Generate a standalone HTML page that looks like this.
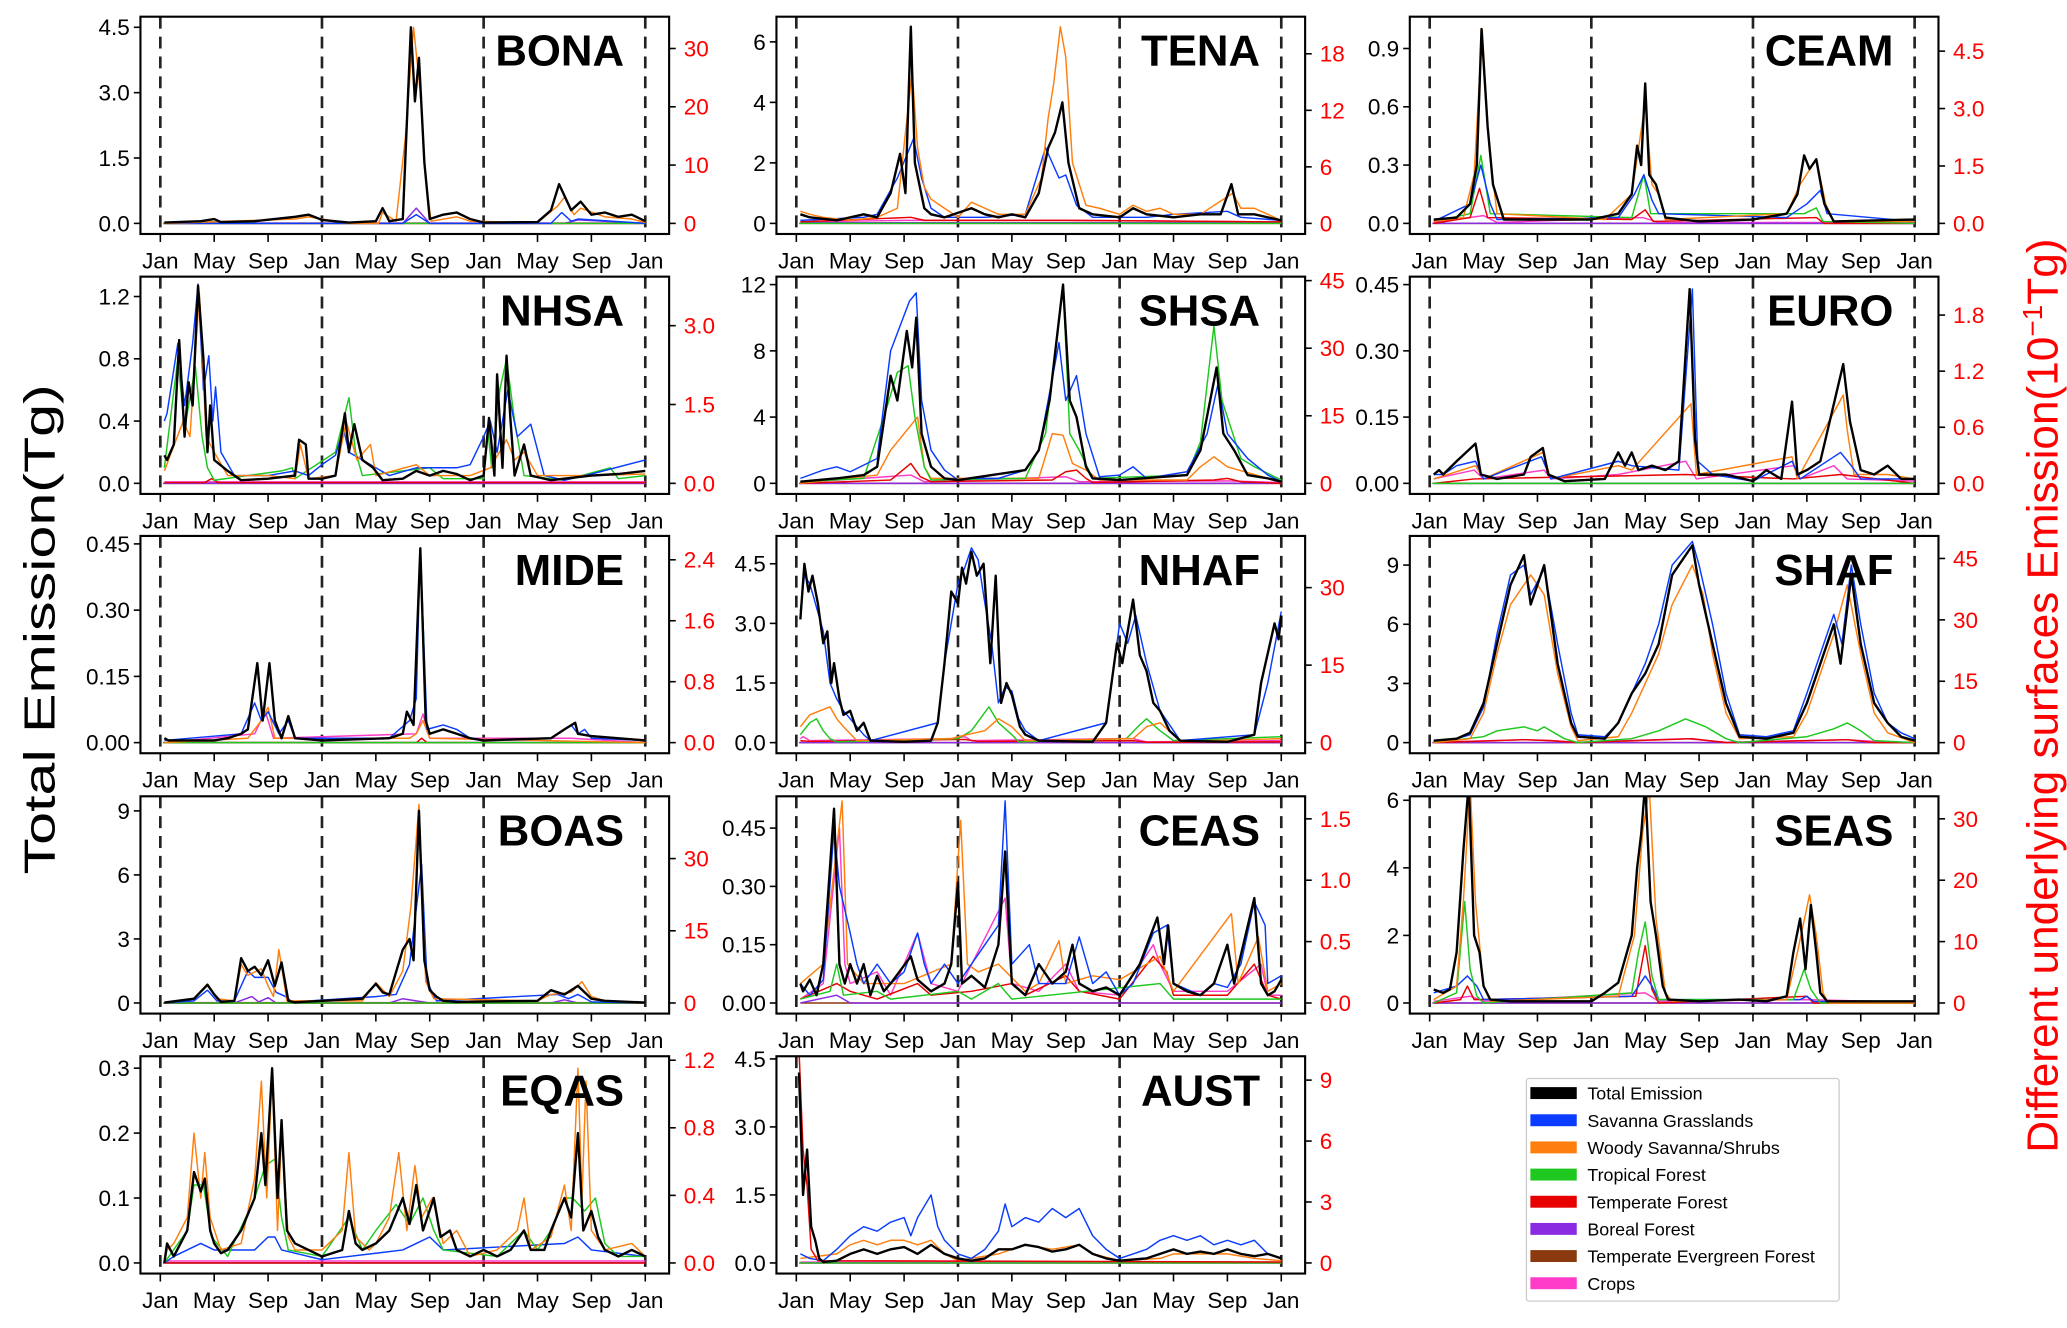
<!DOCTYPE html>
<html><head><meta charset="utf-8"><title>Emission panels</title>
<style>html,body{margin:0;padding:0;background:#fff}svg{display:block}text{font-family:"Liberation Sans",Arial,sans-serif}</style>
</head><body>
<svg id="chart" xmlns="http://www.w3.org/2000/svg" width="2067" height="1328" viewBox="0 0 1560 1002.3" preserveAspectRatio="none">
<rect x="0" y="0" width="1560" height="1003" fill="#fff"/>
<text transform="translate(41,475) rotate(-90)" text-anchor="middle" font-size="33" fill="#000" textLength="370" lengthAdjust="spacingAndGlyphs">Total Emission(Tg)</text>
<text transform="translate(1553,525) rotate(-90)" text-anchor="middle" font-size="33" fill="#f00" textLength="690" lengthAdjust="spacingAndGlyphs">Different underlying surfaces Emission(10<tspan font-size="21" dy="-12">−1</tspan><tspan dy="12">Tg)</tspan></text>
<g>
<rect x="1152" y="814" width="236" height="168" fill="#fff" stroke="#ccc" stroke-width="1" rx="2"/>
</g>
</svg>
<script>
// ---- series data: flat [month, value, month, value ...] arrays, values in left-axis units ----
const MONTHS = ['Jan','May','Sep','Jan','May','Sep','Jan','May','Sep','Jan'];
const FLAT = [0,0,36,0];

const BONA_left=[0,1.5,3.0,4.5], BONA_leftLab=['0.0','1.5','3.0','4.5'], BONA_right=[0,10,20,30], BONA_rightLab=['0','10','20','30'];
const BONA_total=[0.3,0.02,3,0.05,4,0.1,4.5,0.03,7,0.05,10,0.15,11,0.2,12,0.08,14,0.02,16,0.05,16.5,0.35,17,0.05,18,0.1,18.6,4.5,18.9,2.8,19.2,3.8,19.6,1.4,20,0.1,21,0.2,22,0.25,23,0.1,24,0.02,28,0.03,29,0.3,29.6,0.9,30.5,0.3,31.2,0.5,32,0.2,33,0.25,34,0.15,35,0.2,36,0.05];
const BONA_woody=[0.3,0,10,0.1,11,0.15,14,0,16.2,0,16.5,0.25,17.5,0.05,18.2,2,18.8,4.5,19.3,3.0,19.7,1.0,20.1,0.05,22,0.15,23,0.05,28,0.02,29.5,0.4,30,0.6,30.7,0.2,31.2,0.35,33,0.15,35,0.1,36,0.02];
const BONA_sav=[0.3,0,18,0,19,0.2,20,0,29,0,29.8,0.25,30.5,0.05,31,0.1,36,0];
const BONA_trop=FLAT;
const BONA_temp=FLAT;
const BONA_boreal=[0.3,0,18,0,19,0.35,20,0,30,0,31,0.08,36,0];
const BONA_crops=[0.3,0.01,36,0.01];

const TENA_left=[0,2,4,6], TENA_leftLab=['0','2','4','6'], TENA_right=[0,6,12,18], TENA_rightLab=['0','6','12','18'];
const TENA_total=[0.3,0.3,1,0.2,3,0.1,5,0.3,6,0.2,7,1,7.7,2.3,8.1,1,8.5,6.5,8.8,2,9.5,0.5,10,0.3,11,0.2,13,0.5,14,0.3,15,0.2,16,0.3,17,0.2,18,1,18.7,2.5,19.2,3,19.75,4,20.2,2,21,0.5,22,0.3,24,0.2,25,0.5,26,0.3,28,0.2,30,0.3,31.5,0.3,32.3,1.3,32.8,0.3,34,0.3,36,0.1];
const TENA_woody=[0.3,0.4,1,0.3,2,0.2,4,0.1,6,0.2,7.5,0.5,8.1,3,8.6,5,9,2.5,9.5,1.2,10,0.8,11,0.5,12,0.2,13,0.7,14,0.5,15,0.3,17,0.3,18.2,1.5,18.7,3.5,19.1,4.6,19.6,6.5,20,5.5,20.5,2,21.5,0.6,22.5,0.5,24,0.3,25,0.6,26,0.4,27,0.5,28,0.3,30,0.3,32.4,1.0,33,0.5,34,0.5,35,0.3,36,0.1];
const TENA_sav=[0.3,0.1,5,0.2,6,0.3,7.5,1.5,8.7,2.8,9.3,1.5,10,0.5,11,0.2,14,0.2,17,0.3,18.5,2.5,19.5,1.5,20,1.6,20.8,0.6,22,0.2,26,0.2,28,0.3,32,0.4,33,0.2,36,0.1];
const TENA_trop=FLAT;
const TENA_temp=[0.3,0.05,8.5,0.2,9.5,0.1,20,0.1,36,0.05];
const TENA_boreal=[0.3,0.02,36,0.02];
const TENA_crops=[0.3,0.05,8,0.1,20,0.1,36,0.05];

const CEAM_left=[0,0.3,0.6,0.9], CEAM_leftLab=['0.0','0.3','0.6','0.9'], CEAM_right=[0,1.5,3.0,4.5], CEAM_rightLab=['0.0','1.5','3.0','4.5'];
const CEAM_total=[0.3,0.02,2,0.03,3,0.1,3.5,0.3,3.85,1.0,4.3,0.5,4.7,0.2,5.5,0.02,8,0.02,12,0.02,14,0.05,15,0.15,15.4,0.4,15.7,0.3,16,0.72,16.3,0.25,16.8,0.2,17.5,0.03,20,0.01,24,0.02,26.5,0.05,27.3,0.15,27.8,0.35,28.2,0.28,28.7,0.33,29.3,0.1,30,0.01,36,0.02];
const CEAM_woody=[0.3,0.01,2.5,0.03,3.3,0.25,3.9,1.0,4.4,0.4,5,0.05,13,0.02,15,0.15,16,0.62,16.5,0.2,17,0.15,17.5,0.02,26.5,0.05,27.5,0.2,28.7,0.33,29.4,0.1,30,0.01,36,0.01];
const CEAM_sav=[0.3,0.01,3,0.1,3.8,0.3,4.5,0.1,5,0.02,14,0.03,15.2,0.15,15.9,0.25,16.5,0.12,17,0.05,26.5,0.03,28,0.1,29,0.17,29.5,0.05,36,0.01];
const CEAM_trop=[0.3,0.01,3,0.05,3.8,0.35,4.5,0.05,15,0.03,15.9,0.25,16.4,0.05,27.8,0.05,28.7,0.08,29.2,0.01,36,0];
const CEAM_temp=[0.3,0,3,0.03,3.7,0.18,4.3,0.03,15,0.02,16,0.07,16.6,0.01,28.7,0.03,29.3,0,36,0];
const CEAM_boreal=FLAT;
const CEAM_crops=[0.3,0.005,4,0.04,5,0.005,15.8,0.03,17,0.005,36,0.005];

const NHSA_left=[0,0.4,0.8,1.2], NHSA_leftLab=['0.0','0.4','0.8','1.2'], NHSA_right=[0,1.5,3.0], NHSA_rightLab=['0.0','1.5','3.0'];
const NHSA_total=[0.3,0.18,0.5,0.15,1,0.25,1.4,0.92,1.8,0.3,2.1,0.65,2.4,0.5,2.8,1.27,3.2,0.8,3.5,0.2,3.7,0.5,4,0.15,5,0.08,6,0.02,8,0.03,10,0.05,10.3,0.28,10.8,0.25,11,0.03,12,0.03,13,0.05,13.7,0.45,14,0.2,14.4,0.38,15,0.15,15.8,0.1,16.5,0.02,18,0.03,19,0.08,20,0.05,21,0.08,22,0.06,23,0.02,24,0.05,24.4,0.42,24.8,0.05,25,0.7,25.4,0.1,25.7,0.82,26,0.4,26.3,0.05,27,0.25,27.5,0.05,29,0.02,32,0.05,34,0.06,36,0.08];
const NHSA_sav=[0.3,0.4,0.5,0.45,1.3,0.9,1.8,0.5,2.4,0.9,2.8,1.28,3.2,0.6,3.6,0.82,3.9,0.4,4.1,0.62,4.5,0.2,5.5,0.05,8,0.05,10,0.08,11,0.05,12,0.12,13,0.18,13.6,0.35,14,0.2,15,0.15,17,0.05,19,0.1,22,0.1,23,0.12,24,0.3,24.5,0.4,25,0.2,25.8,0.6,26.5,0.3,27.5,0.38,28.5,0.05,30,0.02,32,0.06,36,0.15];
const NHSA_woody=[0.3,0.08,1.7,0.4,2.2,0.3,2.9,1.22,3.4,0.3,4,0.2,5,0.05,8,0.05,10,0.03,10.4,0.25,11,0.03,13,0.05,13.8,0.4,14.6,0.15,15.6,0.25,16,0.05,19,0.12,20,0.05,23,0.05,24.5,0.1,25.7,0.28,26.3,0.15,27,0.2,28,0.05,32,0.05,36,0.06];
const NHSA_trop=[0.3,0.1,1.3,0.8,1.8,0.35,2.6,0.75,3.1,0.3,3.5,0.1,4,0.02,9,0.08,9.8,0.1,10,0.03,13,0.2,14,0.55,14.5,0.2,15,0.05,20,0.1,21,0.03,24,0.03,24.3,0.35,24.6,0.1,25.2,0.6,25.7,0.8,26.3,0.4,27,0.05,30,0.02,33.4,0.1,34,0.03,36,0.05];
const NHSA_temp=[0.3,0.005,3.3,0.005,3.8,0.03,4.3,0.005,36,0.005];
const NHSA_boreal=FLAT;
const NHSA_crops=[0.3,0.01,36,0.01];

const SHSA_left=[0,4,8,12], SHSA_leftLab=['0','4','8','12'], SHSA_right=[0,15,30,45], SHSA_rightLab=['0','15','30','45'];
const SHSA_total=[0.3,0.1,3,0.3,5,0.5,6,1,7,6.5,7.5,5,8.2,9.2,8.6,7,8.9,10,9.3,3,10,1,11,0.3,12,0.2,17,0.8,18,2,18.8,5,19.8,12,20.3,5,20.8,4,21.5,1,22,0.3,24,0.2,29,0.5,30,2,31.2,7,31.7,3,32.5,2,33.5,0.5,35,0.3,36,0.1];
const SHSA_sav=[0.3,0.3,2,0.8,3,1,4,0.7,6,1.5,7,8,8.4,11,8.9,11.5,9.3,5,10,2,11,0.8,12,0.2,13,0.3,15,0.3,17,0.8,18,2,19.5,8.5,20,5,20.8,6.5,21.5,3,22.5,0.4,24,0.5,25,1,26,0.3,29,0.7,30.5,3,31.3,6,32,3,33.5,1.5,35,0.5,36,0.1];
const SHSA_trop=[0.3,0.1,5,0.3,6.5,4,7.5,6.7,8.3,7.1,8.8,4,9.5,1,10,0.2,17,0.3,18.5,3,19.8,12,20.3,3,21,2,22,0.3,29,0.5,30,2.5,31,9.5,31.6,5,33,1.5,34,1,36,0.2];
const SHSA_woody=[0.3,0,6,0.5,7,2,8,3,9,4,9.5,1,10,0.3,18,0.3,19,3,19.8,2.9,20.5,1.2,21.5,0.8,22.5,0.2,29,0.2,30,1,31,1.6,32,1,35,0.3,36,0.1];
const SHSA_temp=[0.3,0,7,0.2,8.5,1.2,9.2,0.4,10,0.1,19,0.2,20,0.7,20.8,0.8,21.5,0.3,22,0.05,31,0.2,32,0.3,33,0.1,36,0];
const SHSA_boreal=FLAT;
const SHSA_crops=[0.3,0.05,8.5,0.5,9.5,0.1,20,0.4,21,0.1,32,0.15,36,0.05];

const EURO_left=[0,0.15,0.30,0.45], EURO_leftLab=['0.00','0.15','0.30','0.45'], EURO_right=[0,0.6,1.2,1.8], EURO_rightLab=['0.0','0.6','1.2','1.8'];
const EURO_total=[0.3,0.02,0.7,0.03,1,0.02,2,0.05,3.4,0.09,3.8,0.02,5,0.01,7,0.02,7.5,0.06,8.4,0.08,8.8,0.02,10,0.005,13,0.01,14,0.07,14.5,0.04,15,0.07,15.5,0.03,16.5,0.04,17.5,0.03,18.5,0.05,19.3,0.44,19.7,0.1,20,0.02,22,0.02,24,0.005,25,0.03,26.1,0.01,26.9,0.185,27.3,0.02,28,0.03,29,0.05,30.7,0.27,31.2,0.14,32,0.03,33,0.02,34,0.04,35,0.01,36,0.01];
const EURO_sav=[0.3,0.02,1,0.02,2,0.04,3.4,0.05,4,0.01,8.3,0.06,9,0.01,14,0.05,15,0.04,18.5,0.03,19.5,0.44,19.9,0.05,21,0.02,24,0.005,26.9,0.05,27.5,0.01,30.5,0.07,31.3,0.04,32,0.01,36,0.01];
const EURO_woody=[0.3,0.01,3.4,0.04,4,0.01,8.4,0.07,9,0.01,14,0.04,15,0.03,19.4,0.18,19.8,0.02,26.9,0.06,27.3,0.01,30.7,0.2,31,0.12,31.5,0.02,34,0.02,36,0.01];
const EURO_trop=FLAT;
const EURO_temp=[0.3,0,3.3,0.01,19,0.02,27,0.01,30.5,0.02,36,0];
const EURO_boreal=FLAT;
const EURO_crops=[0.3,0.01,3.3,0.03,4,0.01,8.5,0.03,9,0.01,14,0.02,19,0.05,19.8,0.01,27,0.04,27.5,0.01,30,0.04,31,0.01,36,0.005];

const MIDE_left=[0,0.15,0.30,0.45], MIDE_leftLab=['0.00','0.15','0.30','0.45'], MIDE_right=[0,0.8,1.6,2.4], MIDE_rightLab=['0.0','0.8','1.6','2.4'];
const MIDE_total=[0.3,0.01,0.6,0.005,4,0.005,5,0.01,6,0.02,6.5,0.03,7.2,0.18,7.6,0.05,8.1,0.18,8.5,0.05,9,0.01,9.5,0.06,10,0.01,12,0.005,17,0.01,18,0.02,18.3,0.07,18.8,0.04,19.3,0.44,19.7,0.05,20,0.02,21,0.03,22,0.02,23,0.01,24,0.005,29,0.01,30,0.03,30.8,0.045,31,0.02,32,0.015,36,0.005];
const MIDE_sav=[0.3,0.005,6,0.02,7,0.09,7.5,0.05,8,0.07,8.8,0.02,9.5,0.05,10,0.01,17,0.01,18.5,0.05,19,0.1,19.3,0.44,19.8,0.03,21,0.04,22,0.03,23,0.01,24,0.005,29,0.01,30.5,0.04,31,0.02,31.5,0.03,32,0.01,36,0.005];
const MIDE_woody=[0.3,0,6.5,0.01,7.5,0.05,8,0.08,8.5,0.01,18.5,0.01,19,0.02,19.5,0.05,20,0.01,36,0];
const MIDE_trop=FLAT;
const MIDE_temp=[0.3,0,19,0,19.4,0.01,19.8,0,36,0];
const MIDE_boreal=FLAT;
const MIDE_crops=[0.3,0,7,0.02,7.8,0.07,8.4,0.01,19,0.02,19.5,0.065,20,0.01,30.5,0.01,36,0];

const NHAF_left=[0,1.5,3.0,4.5], NHAF_leftLab=['0.0','1.5','3.0','4.5'], NHAF_right=[0,15,30], NHAF_rightLab=['0','15','30'];
const NHAF_total=[0.3,3.1,0.6,4.5,0.9,3.8,1.2,4.2,1.6,3.5,2,2.5,2.3,2.8,2.6,1.5,2.8,2,3.2,1.1,3.5,0.7,4,0.8,4.5,0.3,5,0.5,5.5,0.05,8,0.02,10,0.05,10.5,0.5,11,2,11.5,3.8,12,3.5,12.3,4.4,12.6,4.0,13,4.8,13.4,4.2,13.9,4.5,14.4,2.0,14.8,4.2,15.2,1.0,15.6,1.5,16,1.2,16.6,0.4,17,0.2,18,0.05,22,0.02,23,0.5,23.8,2.5,24.2,2.0,24.6,2.8,25,3.6,25.5,2.2,26,1.8,26.5,1.0,27,0.8,27.7,0.3,28.5,0.05,32,0.02,34,0.2,34.5,1.5,35.5,3.0,35.8,2.6,36,3.2];
const NHAF_sav=[0.3,3.3,0.6,4.2,1,4.0,2,2.8,2.5,1.5,3,1.1,3.5,0.8,4,0.6,5,0.2,5.5,0.05,10.5,0.5,11,2,12,4,12.5,4.4,13,4.9,13.5,4.6,14,3.5,14.5,2.5,15,1.0,15.5,1.4,16,1.3,16.5,0.6,17,0.3,18,0.05,23,0.5,24,3.0,24.6,2.5,25.2,3.2,26,2.0,27,0.8,28,0.3,28.5,0.05,34,0.2,35,1.5,36,3.3];
const NHAF_woody=[0.3,0.4,1,0.7,2.5,0.9,3,0.6,3.5,0.4,4.5,0.05,11.5,0.1,12,0.15,14,0.3,15,0.6,16,0.4,17,0.05,25,0.1,26,0.4,27,0.5,28,0.2,28.5,0.03,36,0.1];
const NHAF_trop=[0.3,0.2,1,0.5,1.5,0.6,2,0.3,2.5,0.1,3,0.02,12,0.1,13,0.3,14.3,0.9,15,0.5,16,0.2,16.5,0.02,24.5,0.1,25.5,0.45,26,0.6,27,0.3,28,0.05,36,0.15];
const NHAF_temp=[0.3,0.05,1,0.03,12.5,0.08,13.5,0.03,25,0.05,26,0.01,36,0.02];
const NHAF_boreal=FLAT;
const NHAF_crops=[0.3,0.1,0.5,0.15,1,0.05,11.5,0.1,12.5,0.15,13,0.05,24,0.1,25,0.1,26,0.02,36,0.05];

const SHAF_left=[0,3,6,9], SHAF_leftLab=['0','3','6','9'], SHAF_right=[0,15,30,45], SHAF_rightLab=['0','15','30','45'];
const SHAF_total=[0.3,0.1,2,0.2,3,0.5,4,2,5,5,6,8,7,9.5,7.5,7,8.5,9,9.5,4,10.5,1,11,0.3,13,0.2,14,1,15,2.5,16,3.5,17,5,18,8.5,19.5,10,20,8,21,5,22,2,23,0.3,25,0.2,27,0.5,28,2,29,4,30,6,30.5,4,31.3,8.5,32,5,33,2,34,1,35,0.3,36,0.1];
const SHAF_sav=[0.3,0.1,2,0.2,3,0.4,4,1.8,5,5.5,6,8.5,7,9,7.5,7.5,8.5,8.8,9.5,5,10.5,1.5,11,0.4,13,0.3,14,1,15,2.5,16,4,17,6,18,9,19.5,10.2,20,9,21,6,22,2.5,23,0.4,25,0.3,27,0.6,28,2.5,29,4.5,30,6.5,30.6,5,31.3,9,32,6,33,2.5,34,1,35,0.5,36,0.2];
const SHAF_woody=[0.3,0,3,0.2,4,1.5,5,4.5,6,7,7.5,8.5,8.5,7.5,9.5,3.5,10.5,0.8,11,0.1,14,0.3,15,1.5,16,3,17,4.5,18,7,19.5,9,20.3,7.5,21,4.5,22,1.5,23,0.2,27,0.3,28,1.5,29,3.5,30,5.5,31,8,32,4.5,33,1.5,34,0.5,36,0];
const SHAF_trop=[0.3,0,4,0.3,5,0.6,7,0.8,8,0.6,8.5,0.8,10,0.2,11,0,15,0.2,17,0.6,19,1.2,20.5,0.8,22,0.2,23,0,28,0.3,30,0.7,31,1.0,32,0.6,33,0.1,36,0];
const SHAF_temp=[0.3,0,7,0.15,9,0.1,11,0,19.5,0.2,22,0,31,0.15,33,0,36,0];
const SHAF_boreal=FLAT;
const SHAF_crops=[0.3,0.02,7,0.15,9,0.1,11,0.02,19,0.2,22,0.02,31,0.15,34,0.02,36,0.02];

const BOAS_left=[0,3,6,9], BOAS_leftLab=['0','3','6','9'], BOAS_right=[0,15,30], BOAS_rightLab=['0','15','30'];
const BOAS_total=[0.3,0.02,2.5,0.2,3.5,0.85,4,0.4,4.5,0.05,5.5,0.1,6,2.1,6.5,1.5,7,1.7,7.5,1.3,8,2.0,8.5,0.8,9,1.9,9.5,0.1,10,0.03,15,0.2,16,0.9,16.5,0.5,17,0.4,18,2.5,18.5,3.0,18.8,2.0,19.2,9.0,19.6,2,20,0.6,20.5,0.3,21,0.1,22,0.05,28,0.1,29,0.6,30,0.4,31,0.8,32,0.2,33,0.1,36,0.02];
const BOAS_woody=[0.3,0,2.5,0.2,3.5,0.9,4.2,0.2,5.5,0.1,6,1.8,6.5,1.3,7.5,1.6,8,0.8,8.4,0.3,8.8,2.5,9.4,0.1,15,0.1,16,0.95,17,0.3,18,1.5,18.6,4.5,19.2,9.3,19.7,1,20.3,0.2,28,0.1,29,0.4,30.5,0.5,31.3,1.0,32,0.3,33,0.1,36,0];
const BOAS_sav=[0.3,0,2.5,0.1,3.5,0.6,4.2,0.1,5.5,0.1,6.5,1.5,7,1.2,8,1.2,8.6,0.5,9.3,0.3,9.8,0.05,16,0.3,17.5,0.4,18.5,1.8,19.4,6.5,19.8,1,20.5,0.1,29.5,0.4,30.3,0.2,31,0.4,32,0.05,36,0];
const BOAS_trop=FLAT;
const BOAS_temp=FLAT;
const BOAS_boreal=[0.3,0,5.5,0,6.8,0.3,7.3,0.05,8,0.25,8.6,0,17,0,18,0.2,19,0.1,20,0,29,0,30,0.15,31,0,36,0];
const BOAS_crops=[0.3,0.02,36,0.02];

const CEAS_left=[0,0.15,0.30,0.45], CEAS_leftLab=['0.00','0.15','0.30','0.45'], CEAS_right=[0,0.5,1.0,1.5], CEAS_rightLab=['0.0','0.5','1.0','1.5'];
const CEAS_total=[0.3,0.05,0.5,0.03,1,0.06,1.5,0.02,2,0.1,2.8,0.5,3.2,0.1,3.6,0.05,4,0.1,4.5,0.05,5,0.1,5.5,0.02,6,0.07,6.5,0.03,7,0.05,8.5,0.12,9,0.06,10,0.03,11,0.05,11.5,0.1,12,0.31,12.3,0.05,13,0.07,14,0.04,15,0.15,15.5,0.39,16,0.05,17,0.02,18,0.1,19,0.05,20,0.08,20.5,0.15,21,0.05,22,0.03,23,0.04,24,0.02,25.5,0.1,26.8,0.22,27.3,0.1,27.6,0.2,28,0.05,29,0.03,30,0.02,31,0.05,32,0.15,32.5,0.05,34,0.27,34.5,0.05,35,0.02,35.5,0.03,36,0.06];
const CEAS_sav=[0.3,0.05,1,0.02,2,0.06,2.8,0.45,3.2,0.3,4,0.18,4.5,0.1,5,0.05,6,0.1,7,0.05,8,0.08,9,0.18,9.5,0.1,10,0.05,11,0.1,12,0.05,13,0.1,14,0.15,15,0.2,15.5,0.52,16,0.1,17.3,0.15,18,0.05,20,0.05,21,0.17,22,0.05,23,0.08,24,0.02,25,0.05,26.5,0.18,27.5,0.2,28,0.05,30,0.02,31,0.05,32,0.04,33,0.1,34,0.26,34.8,0.2,35,0.05,36,0.07];
const CEAS_woody=[0.3,0.05,2,0.1,3.4,0.52,3.8,0.1,5,0.05,8,0.05,11.5,0.1,12.2,0.47,12.7,0.1,13.5,0.08,15,0.1,17,0.03,18,0.05,19.5,0.16,20,0.05,22,0.07,24,0.06,26,0.1,27,0.12,28,0.03,32.3,0.23,32.8,0.05,34.3,0.17,35,0.03,36,0.05];
const CEAS_trop=[0.3,0.01,2.5,0.03,3,0.1,3.5,0.02,6,0.03,7,0.01,12,0.03,13,0.01,15,0.05,16,0.01,27,0.05,28,0.01,36,0.01];
const CEAS_temp=[0.3,0.01,1,0.02,3,0.05,4,0.03,6,0.01,9,0.05,10,0.02,13,0.03,16,0.05,17,0.02,20,0.07,21,0.03,24,0.01,26.5,0.12,27.5,0.08,28,0.02,32,0.02,34,0.1,35,0.02,36,0.01];
const CEAS_boreal=[0.3,0,3,0.02,4,0,36,0];
const CEAS_crops=[0.3,0.01,2,0.05,3.2,0.45,3.6,0.1,4,0.05,6,0.08,7,0.02,9,0.18,10,0.05,12,0.03,15.5,0.27,16,0.05,18,0.03,20,0.1,21,0.03,24,0.02,26.5,0.15,27,0.1,28,0.03,32,0.03,34.5,0.1,35,0.02,36,0.02];

const SEAS_left=[0,2,4,6], SEAS_leftLab=['0','2','4','6'], SEAS_right=[0,10,20,30], SEAS_rightLab=['0','10','20','30'];
const SEAS_total=[0.3,0.4,1,0.3,1.5,0.4,2,1.5,2.5,4.5,2.9,6.5,3.3,2,3.7,1.5,4,0.5,4.5,0.1,6,0.05,12,0.05,13,0.3,14,0.6,15,2,15.4,4,15.7,5,16,6.5,16.4,3,16.8,2,17.3,0.5,17.7,0.1,20,0.05,23,0.1,25,0.05,26.5,0.2,27,1.5,27.5,2.5,27.9,1.0,28.3,2.9,28.7,1.5,29,0.3,29.5,0.05,36,0.05];
const SEAS_woody=[0.3,0.1,2,0.5,2.5,3,3,6.5,3.4,3,4,0.5,4.5,0.05,14,0.2,15.2,2,15.8,5,16.3,6.4,16.8,2.5,17.5,0.3,18,0.05,26.5,0.1,27.3,1.5,28.2,3.2,28.7,2,29.2,0.3,29.6,0,36,0];
const SEAS_trop=[0.3,0,2,0.3,2.6,3.0,3,1,3.5,0.2,4,0,15,0.3,15.5,1.5,16,2.4,16.5,0.8,17,0.1,27,0.1,27.8,1.0,28.3,0.4,29,0,36,0];
const SEAS_sav=[0.3,0.3,2,0.5,2.8,0.8,3.5,0.5,4,0.1,15,0.2,15.5,0.5,16,0.8,16.5,0.5,17,0.1,27.5,0.1,28,0.2,28.5,0.05,36,0.02];
const SEAS_temp=[0.3,0,2.3,0.1,2.8,0.5,3.3,0.1,15.3,0.2,16,1.7,16.5,0.4,17,0,28,0.2,28.5,0,36,0];
const SEAS_boreal=FLAT;
const SEAS_crops=[0.3,0.05,3,0.2,4,0.05,16,0.3,17,0.05,28,0.1,36,0.02];

const EQAS_left=[0,0.1,0.2,0.3], EQAS_leftLab=['0.0','0.1','0.2','0.3'], EQAS_right=[0,0.4,0.8,1.2], EQAS_rightLab=['0.0','0.4','0.8','1.2'];
const EQAS_total=[0.3,0,0.5,0.03,1,0.01,2,0.05,2.5,0.14,3,0.11,3.3,0.13,3.7,0.05,4,0.03,4.5,0.015,5,0.02,6,0.05,7,0.1,7.5,0.2,7.8,0.12,8.3,0.3,8.7,0.1,9,0.22,9.4,0.05,10,0.03,11,0.02,12,0.01,13.5,0.02,14,0.08,14.5,0.03,15,0.02,16,0.03,17,0.05,18,0.1,18.5,0.06,19,0.12,19.5,0.05,20.3,0.1,20.8,0.04,21.5,0.05,22,0.02,23,0.01,24,0.02,25,0.01,26,0.02,27,0.05,27.5,0.02,28.5,0.02,29,0.05,30,0.1,30.5,0.07,31,0.2,31.4,0.05,32,0.08,32.5,0.04,33,0.02,34,0.01,35,0.02,36,0.01];
const EQAS_woody=[0.3,0,0.5,0.02,1,0.03,2,0.07,2.5,0.2,3,0.1,3.3,0.17,3.7,0.07,4.5,0.02,6,0.03,7,0.13,7.5,0.28,7.9,0.1,8.3,0.29,8.7,0.05,9,0.2,9.5,0.04,10,0.02,12,0.02,13.5,0.05,14,0.17,14.5,0.04,15.5,0.02,16,0.03,17,0.07,17.7,0.17,18.3,0.05,18.9,0.15,19.4,0.07,20.2,0.1,21,0.03,22,0.05,23,0.01,25,0.02,26.5,0.05,27,0.1,27.5,0.02,29,0.04,30,0.12,30.5,0.05,31,0.3,31.3,0.1,31.6,0.28,32,0.05,33,0.02,35,0.03,36,0.01];
const EQAS_trop=[0.3,0,2,0.05,2.5,0.12,3.2,0.12,3.8,0.04,5,0.01,7,0.1,7.8,0.15,8.5,0.16,9,0.07,9.5,0.02,12,0.01,14,0.07,15,0.02,16,0.05,17.5,0.09,18.5,0.06,19.5,0.1,20.3,0.05,21,0.02,25,0.01,27,0.05,28,0.02,29,0.05,30,0.1,30.6,0.1,31.5,0.08,32.3,0.1,33,0.03,34,0.01,36,0.01];
const EQAS_sav=[0.3,0,1,0.01,2,0.02,3,0.03,4,0.02,7,0.02,8,0.04,8.5,0.04,9,0.02,12,0.005,18,0.02,19,0.03,20,0.04,21,0.02,30,0.03,31,0.04,32,0.02,36,0.01];
const EQAS_temp=FLAT;
const EQAS_boreal=FLAT;
const EQAS_crops=[0.3,0.003,36,0.003];

const AUST_left=[0,1.5,3.0,4.5], AUST_leftLab=['0.0','1.5','3.0','4.5'], AUST_right=[0,3,6,9], AUST_rightLab=['0','3','6','9'];
const AUST_total=[0.2,4.2,0.5,1.5,0.8,2.5,1.1,0.8,1.4,0.5,1.7,0.1,2,0.02,3,0.05,4,0.2,5,0.3,6,0.2,7,0.3,8,0.35,9,0.2,10,0.4,11,0.2,12,0.1,13,0.05,14,0.1,15,0.3,16,0.3,17,0.4,18,0.35,19,0.25,20,0.3,21,0.4,22,0.2,23,0.1,24,0.05,26,0.1,27,0.2,28,0.3,29,0.2,30,0.25,31,0.2,32,0.3,33,0.2,34,0.15,35,0.2,36,0.1];
const AUST_temp=[0.2,4.7,0.5,2.5,0.8,1.7,1.1,0.3,1.6,0.05,36,0.02];
const AUST_sav=[0.3,0.2,1,0.1,2,0.05,3,0.3,4,0.6,5,0.8,6,0.7,7,0.9,8,1.0,8.5,0.6,9,1.0,10,1.5,10.5,0.8,11,0.5,12,0.2,13,0.1,14,0.3,15,0.7,15.5,1.3,16,0.8,17,1.0,18,0.9,19,1.2,20,1.0,21,1.2,22,0.6,23,0.3,24,0.1,25,0.2,26,0.3,27,0.5,28,0.6,29,0.5,30,0.6,31,0.4,32,0.5,33,0.4,34,0.5,35,0.2,36,0.1];
const AUST_woody=[0.3,0.1,3,0.2,4,0.4,5,0.5,6,0.4,7,0.5,8,0.5,9,0.4,10,0.5,11,0.2,12,0.05,15,0.2,16,0.3,17,0.4,19,0.3,21,0.4,22,0.2,24,0.05,27,0.1,28,0.2,30,0.2,32,0.2,34,0.1,36,0.05];
const AUST_trop=FLAT;
const AUST_boreal=FLAT;
const AUST_crops=[0.3,0.02,36,0.02];

// ---- legend ----
const LEGEND_LABELS=['Total Emission','Savanna Grasslands','Woody Savanna/Shrubs','Tropical Forest','Temperate Forest','Boreal Forest','Temperate Evergreen Forest','Crops'];
const LEGEND_COLORS=['#000000','#0a3cff','#ff7f0e','#1ec81e','#e60000','#8a2be2','#8b3a0f','#ff3cc8'];

// ---- layout (not data) ----
const COL_X=[106,586,1064], ROW_Y=[12.6,208.8,404.5,601,797.2];
const PW=399, PH=164, ZERO_OFF=156, DASH0=15, YEAR_PX=122;
const panels=[
 {n:'BONA',c:0,r:0,lp:148,rp:132,L:BONA_left,LL:BONA_leftLab,R:BONA_right,RL:BONA_rightLab,s:[[BONA_crops,'crops'],[BONA_boreal,'boreal'],[BONA_temp,'temp'],[BONA_trop,'trop'],[BONA_sav,'sav'],[BONA_woody,'woody'],[BONA_total,'total']]},
 {n:'TENA',c:1,r:0,lp:137,rp:128,L:TENA_left,LL:TENA_leftLab,R:TENA_right,RL:TENA_rightLab,s:[[TENA_crops,'crops'],[TENA_boreal,'boreal'],[TENA_temp,'temp'],[TENA_trop,'trop'],[TENA_sav,'sav'],[TENA_woody,'woody'],[TENA_total,'total']]},
 {n:'CEAM',c:2,r:0,lp:132,rp:130,L:CEAM_left,LL:CEAM_leftLab,R:CEAM_right,RL:CEAM_rightLab,s:[[CEAM_crops,'crops'],[CEAM_boreal,'boreal'],[CEAM_temp,'temp'],[CEAM_trop,'trop'],[CEAM_sav,'sav'],[CEAM_woody,'woody'],[CEAM_total,'total']]},
 {n:'NHSA',c:0,r:1,lp:141,rp:119,L:NHSA_left,LL:NHSA_leftLab,R:NHSA_right,RL:NHSA_rightLab,s:[[NHSA_crops,'crops'],[NHSA_boreal,'boreal'],[NHSA_temp,'temp'],[NHSA_trop,'trop'],[NHSA_sav,'sav'],[NHSA_woody,'woody'],[NHSA_total,'total']]},
 {n:'SHSA',c:1,r:1,lp:150,rp:153,L:SHSA_left,LL:SHSA_leftLab,R:SHSA_right,RL:SHSA_rightLab,s:[[SHSA_crops,'crops'],[SHSA_boreal,'boreal'],[SHSA_temp,'temp'],[SHSA_woody,'woody'],[SHSA_trop,'trop'],[SHSA_sav,'sav'],[SHSA_total,'total']]},
 {n:'EURO',c:2,r:1,lp:150,rp:127,L:EURO_left,LL:EURO_leftLab,R:EURO_right,RL:EURO_rightLab,s:[[EURO_crops,'crops'],[EURO_boreal,'boreal'],[EURO_temp,'temp'],[EURO_trop,'trop'],[EURO_woody,'woody'],[EURO_sav,'sav'],[EURO_total,'total']]},
 {n:'MIDE',c:0,r:2,lp:150,rp:138,L:MIDE_left,LL:MIDE_leftLab,R:MIDE_right,RL:MIDE_rightLab,s:[[MIDE_crops,'crops'],[MIDE_boreal,'boreal'],[MIDE_temp,'temp'],[MIDE_trop,'trop'],[MIDE_woody,'woody'],[MIDE_sav,'sav'],[MIDE_total,'total']]},
 {n:'NHAF',c:1,r:2,lp:135,rp:117,L:NHAF_left,LL:NHAF_leftLab,R:NHAF_right,RL:NHAF_rightLab,s:[[NHAF_crops,'crops'],[NHAF_boreal,'boreal'],[NHAF_temp,'temp'],[NHAF_trop,'trop'],[NHAF_woody,'woody'],[NHAF_sav,'sav'],[NHAF_total,'total']]},
 {n:'SHAF',c:2,r:2,lp:134,rp:139,L:SHAF_left,LL:SHAF_leftLab,R:SHAF_right,RL:SHAF_rightLab,s:[[SHAF_crops,'crops'],[SHAF_boreal,'boreal'],[SHAF_temp,'temp'],[SHAF_trop,'trop'],[SHAF_woody,'woody'],[SHAF_sav,'sav'],[SHAF_total,'total']]},
 {n:'BOAS',c:0,r:3,lp:145,rp:109,L:BOAS_left,LL:BOAS_leftLab,R:BOAS_right,RL:BOAS_rightLab,s:[[BOAS_crops,'crops'],[BOAS_boreal,'boreal'],[BOAS_temp,'temp'],[BOAS_trop,'trop'],[BOAS_sav,'sav'],[BOAS_woody,'woody'],[BOAS_total,'total']]},
 {n:'CEAS',c:1,r:3,lp:132,rp:139,L:CEAS_left,LL:CEAS_leftLab,R:CEAS_right,RL:CEAS_rightLab,s:[[CEAS_crops,'crops'],[CEAS_boreal,'boreal'],[CEAS_temp,'temp'],[CEAS_trop,'trop'],[CEAS_woody,'woody'],[CEAS_sav,'sav'],[CEAS_total,'total']]},
 {n:'SEAS',c:2,r:3,lp:153,rp:139,L:SEAS_left,LL:SEAS_leftLab,R:SEAS_right,RL:SEAS_rightLab,s:[[SEAS_crops,'crops'],[SEAS_boreal,'boreal'],[SEAS_temp,'temp'],[SEAS_sav,'sav'],[SEAS_trop,'trop'],[SEAS_woody,'woody'],[SEAS_total,'total']]},
 {n:'EQAS',c:0,r:4,lp:147,rp:153,L:EQAS_left,LL:EQAS_leftLab,R:EQAS_right,RL:EQAS_rightLab,s:[[EQAS_crops,'crops'],[EQAS_boreal,'boreal'],[EQAS_temp,'temp'],[EQAS_sav,'sav'],[EQAS_trop,'trop'],[EQAS_woody,'woody'],[EQAS_total,'total']]},
 {n:'AUST',c:1,r:4,lp:154,rp:138,L:AUST_left,LL:AUST_leftLab,R:AUST_right,RL:AUST_rightLab,s:[[AUST_crops,'crops'],[AUST_boreal,'boreal'],[AUST_trop,'trop'],[AUST_woody,'woody'],[AUST_sav,'sav'],[AUST_temp,'temp'],[AUST_total,'total']]}
];
const NS='http://www.w3.org/2000/svg';
const svg=document.getElementById('chart');
function mk(tag,attrs,parent){const e=document.createElementNS(NS,tag);for(const k in attrs)e.setAttribute(k,attrs[k]);(parent||svg).appendChild(e);return e;}
const cidx={total:0,sav:1,woody:2,trop:3,temp:4,boreal:5,crops:7};

panels.forEach((p,pi)=>{
  const x0=COL_X[p.c], y0=ROW_Y[p.r], zy=y0+ZERO_OFF;
  const xs=t=>x0+DASH0+t*(YEAR_PX/12);
  const lmax=p.L[p.L.length-1], rmax=p.R[p.R.length-1];
  const ys=v=>zy-v*(p.lp/lmax);
  const ysR=v=>zy-v*(p.rp/rmax);
  const g=mk('g',{});
  
  
  const cp=mk('clipPath',{id:'cp'+pi},g);
  mk('rect',{x:x0,y:y0,width:PW,height:PH},cp);
  for(let yr=0;yr<4;yr++){
    const l=mk('line',{x1:xs(yr*12),x2:xs(yr*12),y1:y0,y2:y0+PH,stroke:'#222','stroke-width':2,'stroke-dasharray':'9,6'},g);
    
    
  }
  let bpts='';
  for(let i=0;i<FLAT.length;i+=2) bpts+=xs(Math.max(FLAT[i],0.3)).toFixed(2)+','+ys(FLAT[i+1]).toFixed(2)+' ';
  const bl=mk('polyline',{points:bpts,fill:'none',stroke:LEGEND_COLORS[6],'stroke-width':1.2,'clip-path':'url(#cp'+pi+')'},g);
  
  
  p.s.forEach(([arr,k])=>{
    let pts='';
    for(let i=0;i<arr.length;i+=2) pts+=xs(Math.max(arr[i],0.2)).toFixed(2)+','+ys(arr[i+1]).toFixed(2)+' ';
    const pl=mk('polyline',{points:pts,fill:'none',stroke:LEGEND_COLORS[cidx[k]],'stroke-width':k==='total'?1.8:1.1,'stroke-linejoin':'round','clip-path':'url(#cp'+pi+')'},g);
    
    
  });
  const fr=mk('rect',{x:x0,y:y0,width:PW,height:PH,fill:'none',stroke:'#000','stroke-width':1.6},g);
  
  
  const tt=mk('text',{x:x0+PW-34,y:y0+37,'text-anchor':'end','font-size':33,'font-weight':'bold',fill:'#000'},g);
  tt.textContent=p.n;
  
  
  p.L.forEach((v,i)=>{
    const y=ys(v);
    const tk=mk('line',{x1:x0-5,x2:x0,y1:y,y2:y,stroke:'#000','stroke-width':1.2},g);
    
    
    const tl=mk('text',{x:x0-8,y:y+6,'text-anchor':'end','font-size':17,fill:'#000'},g);
    tl.textContent=p.LL[i];
    
    
  });
  p.R.forEach((v,i)=>{
    const y=ysR(v);
    const tk=mk('line',{x1:x0+PW,x2:x0+PW+5,y1:y,y2:y,stroke:'#000','stroke-width':1.2},g);
    
    
    const tl=mk('text',{x:x0+PW+11,y:y+6,'text-anchor':'start','font-size':17,fill:'#f00'},g);
    tl.textContent=p.RL[i];
    
    
  });
  MONTHS.forEach((m,i)=>{
    const x=xs(i*4);
    const tk=mk('line',{x1:x,x2:x,y1:y0+PH,y2:y0+PH+6,stroke:'#000','stroke-width':1.2},g);
    
    
    const tl=mk('text',{x:x,y:y0+PH+26,'text-anchor':'middle','font-size':17,fill:'#000'},g);
    tl.textContent=m;
    
    
  });
});

LEGEND_LABELS.forEach((lab,i)=>{
  const y=825+i*20.5;
  const g=mk('g',{});
  
  
  const sw=mk('rect',{x:1155,y:y-4.5,width:35,height:9,fill:LEGEND_COLORS[i]},g);
  
  
  const t=mk('text',{x:1198,y:y+5,'font-size':13.5,fill:'#000'},g);
  t.textContent=lab;
  
  
});
</script>
</body></html>
